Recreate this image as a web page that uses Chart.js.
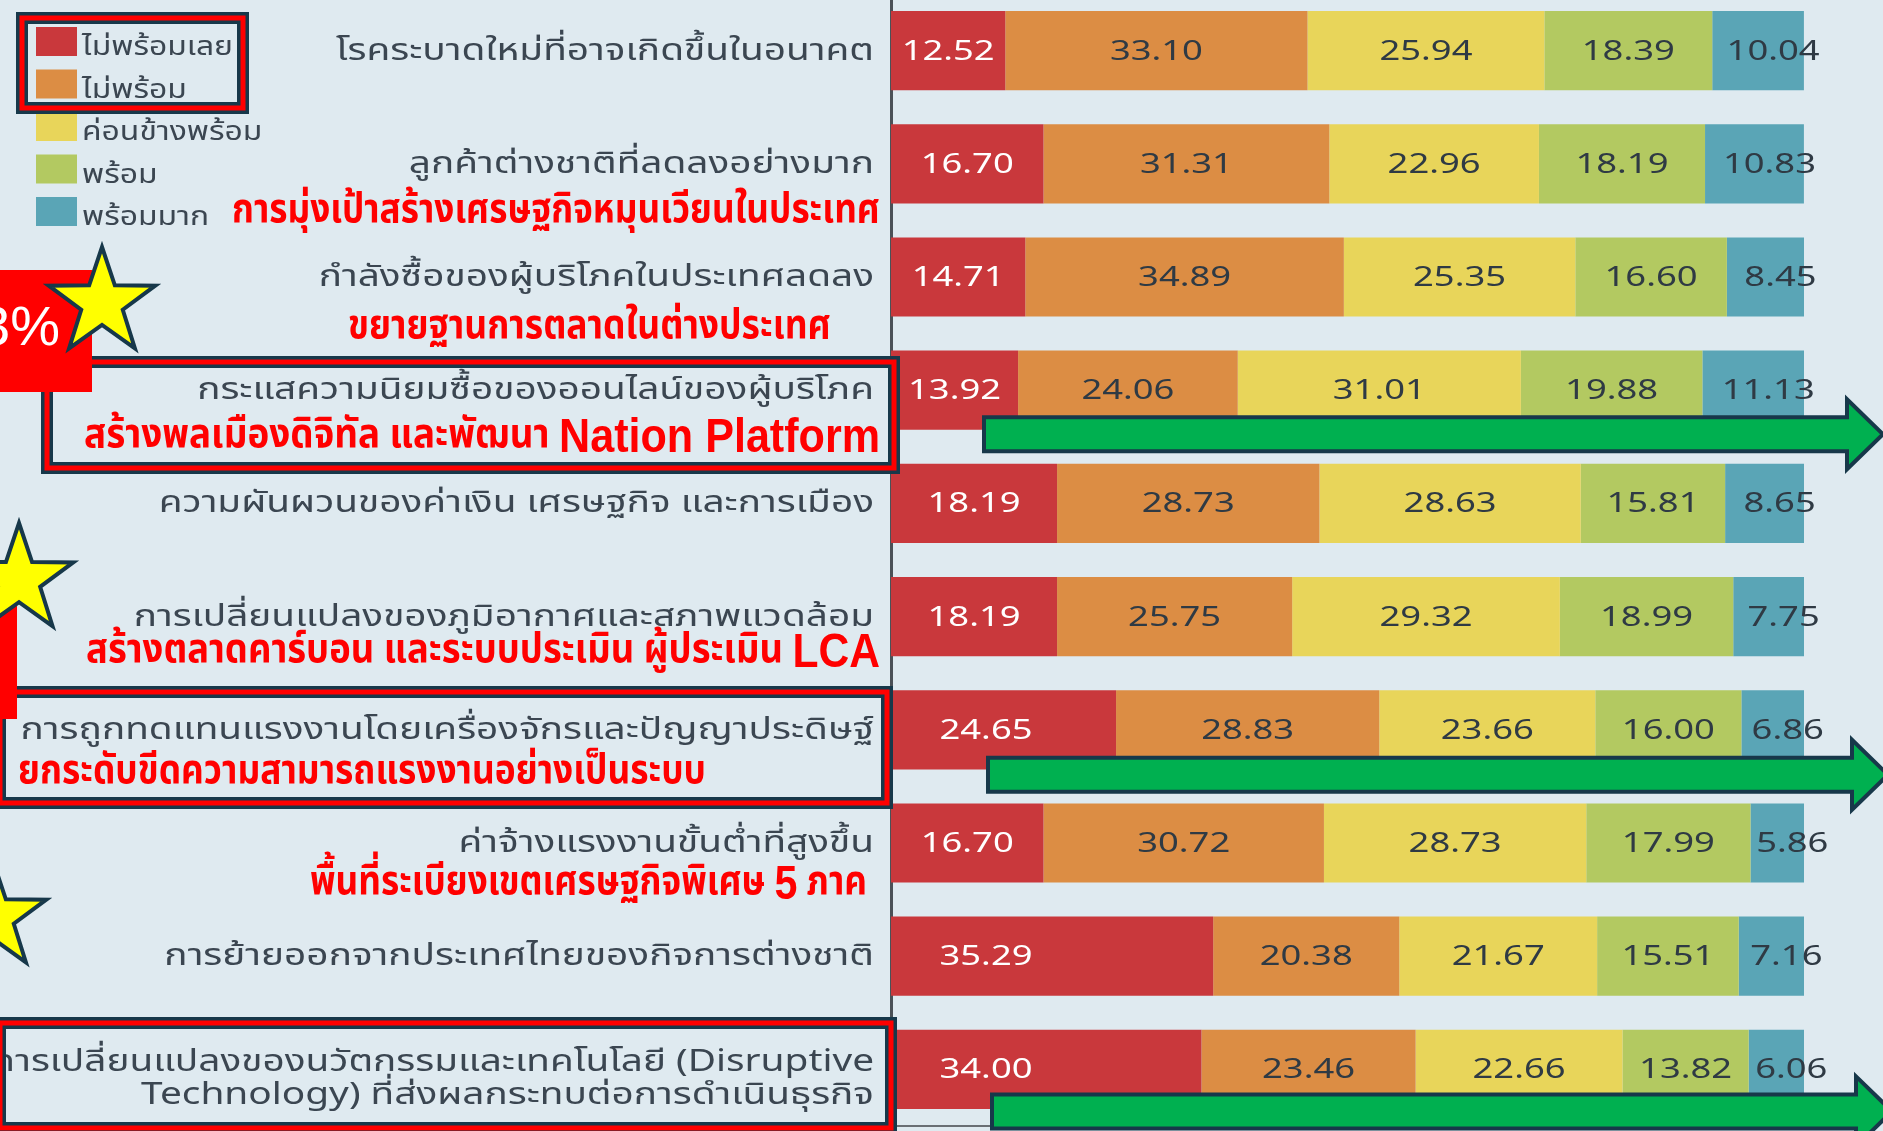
<!DOCTYPE html>
<html lang="th">
<head>
<meta charset="utf-8">
<title>ความพร้อมต่อปัจจัยเสี่ยง</title>
<script src="https://cdn.jsdelivr.net/npm/chart.js@4.4.1/dist/chart.umd.min.js"></script>
<style>
  html, body { margin: 0; padding: 0; background: #dfeaf0; overflow: hidden; }
  #wrap { position: absolute; left: 0; top: -6px; width: 1883px; height: 1137px; }
</style>
</head>
<body>
<div id="wrap"><canvas id="readinessChart"></canvas></div>
<script>
// categories, top to bottom
const categories = [
  'โรคระบาดใหม่ที่อาจเกิดขึ้นในอนาคต',
  'ลูกค้าต่างชาติที่ลดลงอย่างมาก',
  'กำลังซื้อของผู้บริโภคในประเทศลดลง',
  'กระแสความนิยมซื้อของออนไลน์ของผู้บริโภค',
  'ความผันผวนของค่าเงิน เศรษฐกิจ และการเมือง',
  'การเปลี่ยนแปลงของภูมิอากาศและสภาพแวดล้อม',
  'การถูกทดแทนแรงงานโดยเครื่องจักรและปัญญาประดิษฐ์',
  'ค่าจ้างแรงงานขั้นต่ำที่สูงขึ้น',
  'การย้ายออกจากประเทศไทยของกิจการต่างชาติ',
  ['การเปลี่ยนแปลงของนวัตกรรมและเทคโนโลยี (Disruptive', 'Technology) ที่ส่งผลกระทบต่อการดำเนินธุรกิจ']
];

const seriesNames = ['ไม่พร้อมเลย', 'ไม่พร้อม', 'ค่อนข้างพร้อม', 'พร้อม', 'พร้อมมาก'];

// percentages per category
const notReadyAtAll = [12.52, 16.70, 14.71, 13.92, 18.19, 18.19, 24.65, 16.70, 35.29, 34.00];
const notReady      = [33.10, 31.31, 34.89, 24.06, 28.73, 25.75, 28.83, 30.72, 20.38, 23.46];
const fairlyReady   = [25.94, 22.96, 25.35, 31.01, 28.63, 29.32, 23.66, 28.73, 21.67, 22.66];
const ready         = [18.39, 18.19, 16.60, 19.88, 15.81, 18.99, 16.00, 17.99, 15.51, 13.82];
const veryReady     = [10.04, 10.83, 8.45, 11.13, 8.65, 7.75, 6.86, 5.86, 7.16, 6.06];

const seriesData = [notReadyAtAll, notReady, fairlyReady, ready, veryReady];

// strategy notes written under some of the categories
const strategyNotes = [
  'การมุ่งเป้าสร้างเศรษฐกิจหมุนเวียนในประเทศ',
  'ขยายฐานการตลาดในต่างประเทศ',
  ['สร้างพลเมืองดิจิทัล และพัฒนา ', 'Nation Platform'],
  ['สร้างตลาดคาร์บอน และระบบประเมิน ผู้ประเมิน ', 'LCA'],
  'ยกระดับขีดความสามารถแรงงานอย่างเป็นระบบ',
  ['พื้นที่ระเบียงเขตเศรษฐกิจพิเศษ ', '5', ' ภาค']
];
const badgeText = '3%';

const barColors = ['#c9383c', '#dc8d44', '#e8d55a', '#b3c961', '#5aa5b6'];
const THAI = '"Noto Sans Thai", "Noto Sans Thai Looped", "Noto Sans", sans-serif';
const TEXT_GREY = '#3b4651';
const NAVY = '#17384a';
const SHIFT = 6; // canvas starts 6px above the page

function drawFitted(ctx, parts, x, y, width, align, thaiFont, latinFont) {
  const list = [].concat(parts);
  const fonts = list.map(p => /[\u0E00-\u0E7F]/.test(p) ? thaiFont : latinFont);
  const widths = list.map((p, k) => { ctx.font = fonts[k]; return ctx.measureText(p).width; });
  const total = widths.reduce((a, b) => a + b, 0);
  const left = align === 'right' ? x - width : x;
  ctx.save();
  ctx.translate(left, y);
  ctx.scale(width / total, 1);
  ctx.textAlign = 'left';
  ctx.textBaseline = 'middle';
  let cx = 0;
  list.forEach((p, k) => { ctx.font = fonts[k]; ctx.fillText(p, cx, 0); cx += widths[k]; });
  ctx.restore();
}

// text stretched sideways by sx, anchored at its right end
function drawWideRight(ctx, text, x, y, sx) {
  ctx.save();
  ctx.translate(x, y);
  ctx.scale(sx, 1);
  ctx.textAlign = 'right';
  ctx.textBaseline = 'middle';
  ctx.fillText(text, 0, 0);
  ctx.restore();
}

function star(ctx, cx, cy, R) {
  ctx.beginPath();
  for (let k = 0; k < 10; k++) {
    const r = k % 2 ? R * 0.39 : R;
    const a = -Math.PI / 2 + k * Math.PI / 5;
    ctx.lineTo(cx + r * Math.cos(a), cy + r * Math.sin(a));
  }
  ctx.closePath();
  ctx.fillStyle = '#ffff00';
  ctx.fill();
  ctx.lineWidth = 4;
  ctx.strokeStyle = NAVY;
  ctx.stroke();
}

function arrow(ctx, x0, xh, yc) {
  const hs = 17, hh = 35, tip = xh + 36;
  ctx.beginPath();
  ctx.moveTo(x0, yc - hs);
  ctx.lineTo(xh, yc - hs);
  ctx.lineTo(xh, yc - hh);
  ctx.lineTo(tip, yc);
  ctx.lineTo(xh, yc + hh);
  ctx.lineTo(xh, yc + hs);
  ctx.lineTo(x0, yc + hs);
  ctx.closePath();
  ctx.fillStyle = '#00b050';
  ctx.fill();
  ctx.lineWidth = 4;
  ctx.strokeStyle = NAVY;
  ctx.stroke();
}

// dark outline with a red line running through it
function frame(ctx, x1, y1, x2, y2) {
  ctx.lineJoin = 'miter';
  ctx.lineWidth = 12;
  ctx.strokeStyle = NAVY;
  ctx.strokeRect(x1 + 6, y1 + 6, x2 - x1 - 12, y2 - y1 - 12);
  ctx.lineWidth = 5;
  ctx.strokeStyle = '#ff0000';
  ctx.strokeRect(x1 + 6, y1 + 6, x2 - x1 - 12, y2 - y1 - 12);
}

// category names next to the axis, stretched like the rest of the text
const categoryLabels = {
  id: 'categoryLabels',
  afterDraw(chart) {
    const ctx = chart.ctx;
    const yScale = chart.scales.y;
    const right = chart.chartArea.left - 17;
    ctx.save();
    ctx.font = '30px ' + THAI;
    ctx.fillStyle = TEXT_GREY;
    const sx = 538 / ctx.measureText(categories[0]).width;
    categories.forEach((label, i) => {
      const lines = [].concat(label);
      const y0 = yScale.getPixelForValue(i) + 3 + (lines.length > 1 ? 9 - (lines.length - 1) * 16.5 : 0);
      lines.forEach((line, k) => drawWideRight(ctx, line, right, y0 + k * 33, sx));
    });
    ctx.restore();
  }
};

// numbers inside each segment
const valueLabels = {
  id: 'valueLabels',
  afterDatasetsDraw(chart) {
    const ctx = chart.ctx;
    const last = chart.data.datasets.length - 1;
    ctx.save();
    ctx.font = '28px "Noto Sans", sans-serif';
    ctx.textAlign = 'center';
    ctx.textBaseline = 'middle';
    chart.data.datasets.forEach((ds, di) => {
      chart.getDatasetMeta(di).data.forEach((bar, i) => {
        const w = bar.x - bar.base;
        let cx = bar.base + w / 2;
        if (di === 0) cx = bar.base + Math.min(w / 2, 95);
        if (di === last) cx += 15;
        ctx.fillStyle = di === 0 ? '#ffffff' : '#2f3a44';
        ctx.save();
        ctx.translate(cx, bar.y + 1);
        ctx.scale(1.3, 1);
        ctx.fillText(ds.data[i].toFixed(2), 0, 0);
        ctx.restore();
      });
    });
    ctx.restore();
  }
};

const decorations = {
  id: 'decorations',
  afterDraw(chart) {
    const ctx = chart.ctx;
    const yScale = chart.scales.y;
    const rowY = i => yScale.getPixelForValue(i) - SHIFT;
    ctx.save();
    ctx.translate(0, SHIFT);

    // legend
    const legendTop = 41, legendStep = 42.5;
    ctx.font = '26px ' + THAI;
    const legendScale = 151 / ctx.measureText(seriesNames[0]).width;
    seriesNames.forEach((name, k) => {
      const y = legendTop + k * legendStep;
      ctx.fillStyle = barColors[k];
      ctx.fillRect(36, y - 14, 41, 29);
      ctx.save();
      ctx.translate(82, y + 9);
      ctx.scale(legendScale, 1);
      ctx.fillStyle = TEXT_GREY;
      ctx.textBaseline = 'middle';
      ctx.fillText(name, 0, 0);
      ctx.restore();
    });
    frame(ctx, 16, 12, 249, 114);

    // framed categories
    frame(ctx, 41, 356, 900, 474);
    frame(ctx, -6, 686, 893, 809);
    frame(ctx, -6, 1017, 897, 1134);

    // red badge and strip on the left edge
    ctx.fillStyle = '#ff0000';
    ctx.fillRect(0, 270, 92, 122);
    ctx.fillRect(0, 560, 17, 159);
    ctx.fillStyle = '#ffffff';
    ctx.font = '56px "Liberation Sans", sans-serif';
    ctx.textAlign = 'right';
    ctx.textBaseline = 'middle';
    ctx.fillText(badgeText, 60, 330);
    ctx.textAlign = 'left';

    star(ctx, 102, 303, 56);
    star(ctx, 19, 580, 57);
    star(ctx, -7, 917, 56);

    // strategy notes
    ctx.fillStyle = '#ff0000';
    const thaiBold = 'bold 41px ' + THAI;
    const latinBold = 'bold 48px "Liberation Sans", sans-serif';
    drawFitted(ctx, strategyNotes[0], 880, rowY(1) + 50, 648, 'right', thaiBold, latinBold);
    drawFitted(ctx, strategyNotes[1], 831, rowY(2) + 53, 483, 'right', thaiBold, latinBold);
    drawFitted(ctx, strategyNotes[2], 880, rowY(3) + 49, 796, 'right', thaiBold, latinBold);
    drawFitted(ctx, strategyNotes[3], 880, rowY(5) + 37, 794, 'right', thaiBold, latinBold);
    drawFitted(ctx, strategyNotes[4], 18, rowY(6) + 45, 688, 'left', thaiBold, latinBold);
    drawFitted(ctx, strategyNotes[5], 867, rowY(7) + 43, 557, 'right', thaiBold, latinBold);

    // arrows across the chart
    arrow(ctx, 984, 1847, rowY(3) + 44);
    arrow(ctx, 988, 1852, rowY(6) + 45);
    arrow(ctx, 992, 1856, rowY(9) + 42);

    ctx.restore();
  }
};

new Chart(document.getElementById('readinessChart'), {
  type: 'bar',
  data: {
    labels: categories,
    datasets: seriesNames.map((name, k) => ({
      label: name,
      data: seriesData[k],
      backgroundColor: barColors[k],
      borderWidth: 0,
      barPercentage: 0.7,
      categoryPercentage: 1
    }))
  },
  options: {
    indexAxis: 'y',
    responsive: true,
    maintainAspectRatio: false,
    animation: false,
    layout: { padding: { left: 0, right: 79, top: 0, bottom: 5 } },
    plugins: { legend: { display: false }, tooltip: { enabled: false } },
    scales: {
      x: {
        stacked: true,
        min: 0,
        max: 100,
        ticks: { display: false },
        grid: { display: false, drawTicks: false },
        border: { display: true, color: '#6a6f74', width: 2 }
      },
      y: {
        stacked: true,
        ticks: { display: false },
        grid: { display: false, drawTicks: false },
        border: { color: '#4b5157', width: 3 },
        afterFit(scale) {
          scale.width = 891;
          scale.paddingTop = 0;
          scale.paddingBottom = 0;
        }
      }
    }
  },
  plugins: [valueLabels, categoryLabels, decorations]
});
</script>
</body>
</html>
